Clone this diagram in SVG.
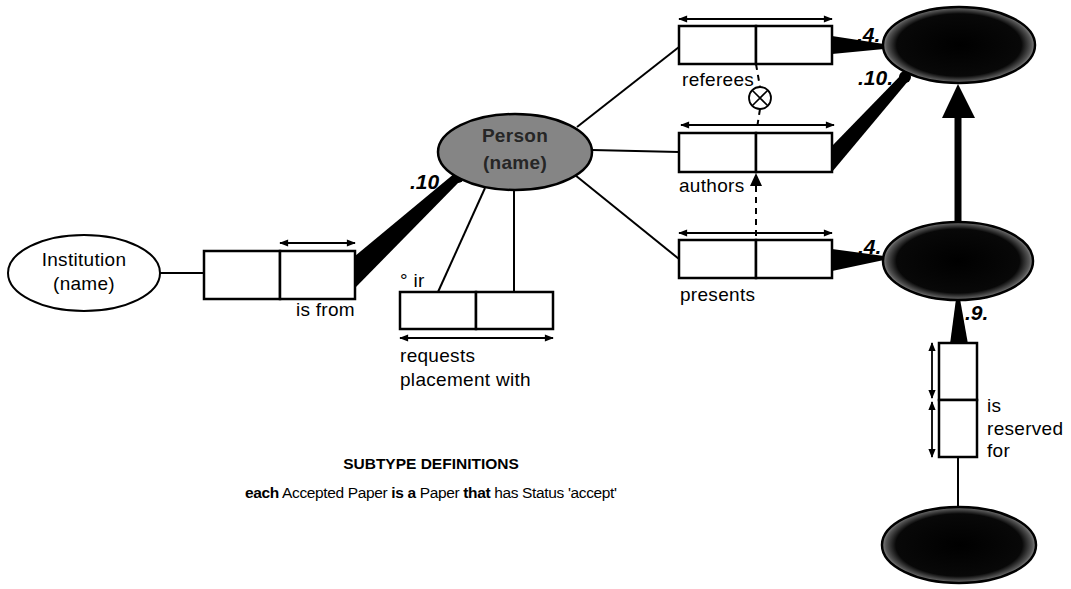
<svg xmlns="http://www.w3.org/2000/svg" width="1071" height="589" viewBox="0 0 1071 589">
<defs>
<style>
.box{fill:#fff;stroke:#000;stroke-width:2.5}
.ln{stroke:#000;stroke-width:2;fill:none}
.uc{stroke:#000;stroke-width:1.8;fill:none;marker-start:url(#ah);marker-end:url(#ah)}
.dash{stroke:#000;stroke-width:2;fill:none;stroke-dasharray:6 5}
.t{font-family:"Liberation Sans",Arial,sans-serif;font-size:19px;fill:#000;letter-spacing:0.3px}
.lab{font-family:"Liberation Sans",Arial,sans-serif;font-size:21px;font-weight:bold;font-style:italic;fill:#000}
.wedge{fill:#000}
.sub{font-family:"Liberation Sans",Arial,sans-serif;font-size:15.5px;fill:#000}
</style>
<marker id="ah" viewBox="0 0 10 10" refX="9" refY="5" markerWidth="10" markerHeight="9" orient="auto-start-reverse" markerUnits="userSpaceOnUse"><path d="M0,1 L10,5 L0,9 z" fill="#000"/></marker>
<radialGradient id="dark" cx="50%" cy="50%" r="50%">
<stop offset="0" stop-color="#000"/><stop offset="0.82" stop-color="#080808"/><stop offset="0.95" stop-color="#555"/><stop offset="1" stop-color="#888"/>
</radialGradient>
</defs>
<rect width="1071" height="589" fill="#fff"/>

<g id="connectors">
<line class="ln" x1="160" y1="273" x2="204" y2="273"/>
<line class="ln" x1="438" y1="292" x2="485" y2="188"/>
<line class="ln" x1="514" y1="292" x2="514" y2="190"/>
<line class="ln" x1="577" y1="127" x2="679" y2="47"/>
<line class="ln" x1="592" y1="150" x2="679" y2="152"/>
<line class="ln" x1="575" y1="175" x2="679" y2="259"/>
<line class="ln" x1="958" y1="457" x2="958" y2="507"/>
<polygon class="wedge" points="355,256 355,288 461,180 455,173"/>
<polygon class="wedge" points="832,36 832,54 884,49 884,44"/>
<polygon class="wedge" points="832,146 832,172 909,80 902,74"/>
<polygon class="wedge" points="832,249 832,271 884,260 884,256"/>
<polygon class="wedge" points="950,344 968,344 960,299 956,299"/>
<line x1="958" y1="222" x2="958" y2="112" stroke="#000" stroke-width="7"/>
<polygon class="wedge" points="958,84 942,118 975,118"/>
<path class="dash" d="M756,64 L760,87"/>
<path class="dash" d="M760,109 L757,128"/>
<line class="dash" x1="756" y1="236" x2="756" y2="185"/>
<polygon class="wedge" points="756,173 750,186 762,186"/>
<circle cx="760" cy="98" r="11" fill="#fff" stroke="#000" stroke-width="1.8"/>
<path d="M752.2,90.2 L767.8,105.8 M767.8,90.2 L752.2,105.8" stroke="#000" stroke-width="1.6"/>
<circle cx="458" cy="177" r="6" fill="#000"/>
<circle cx="905" cy="77" r="6" fill="#000"/>
</g>

<g id="institution">
<ellipse cx="84" cy="273" rx="76" ry="38" fill="#fff" stroke="#000" stroke-width="2"/>
<text class="t" x="84" y="266" text-anchor="middle">Institution</text>
<text class="t" x="84" y="290" text-anchor="middle">(name)</text>
</g>

<g id="person">
<ellipse cx="515" cy="152" rx="77" ry="38" fill="#858585" stroke="#000" stroke-width="2.5"/>
<text class="t" x="515" y="142" text-anchor="middle" style="fill:#262626;font-weight:bold">Person</text>
<text class="t" x="515" y="169" text-anchor="middle" style="fill:#262626;font-weight:bold">(name)</text>
</g>

<g id="is-from">
<rect class="box" x="204" y="251" width="76" height="48"/>
<rect class="box" x="280" y="251" width="75" height="48"/>
<line class="uc" x1="280" y1="243" x2="355" y2="243"/>
<text class="t" x="355" y="316" text-anchor="end">is from</text>
<text class="lab" x="410" y="189">.10</text>
</g>

<g id="requests">
<rect class="box" x="400" y="292" width="76" height="37"/>
<rect class="box" x="476" y="292" width="77" height="37"/>
<line class="uc" x1="400" y1="338" x2="553" y2="338"/>
<text class="t" x="400" y="287">° ir</text>
<text class="t" x="400" y="362">requests</text>
<text class="t" x="400" y="386">placement with</text>
</g>

<g id="referees">
<rect class="box" x="679" y="26" width="77" height="38"/>
<rect class="box" x="756" y="26" width="76" height="38"/>
<line class="uc" x1="679" y1="19" x2="832" y2="19"/>
<text class="t" x="682" y="86">referees</text>
</g>

<g id="authors">
<rect class="box" x="679" y="133" width="77" height="39"/>
<rect class="box" x="756" y="133" width="76" height="39"/>
<line class="uc" x1="681" y1="125" x2="834" y2="125"/>
<text class="t" x="679" y="192">authors</text>
</g>

<g id="presents">
<rect class="box" x="679" y="240" width="77" height="38"/>
<rect class="box" x="756" y="240" width="76" height="38"/>
<line class="uc" x1="679" y1="233" x2="832" y2="233"/>
<text class="t" x="680" y="301">presents</text>
</g>

<g id="paper-top">
<ellipse cx="959" cy="45" rx="76" ry="38" fill="url(#dark)" stroke="#000" stroke-width="2.5"/>
<text class="lab" x="857" y="42">.4.</text>
<text class="lab" x="858" y="85">.10.</text>
</g>

<g id="paper-mid">
<ellipse cx="958" cy="261" rx="75" ry="39" fill="url(#dark)" stroke="#000" stroke-width="2.5"/>
<text class="lab" x="858" y="254">.4.</text>
<text class="lab" x="965" y="320">.9.</text>
</g>

<g id="reserved">
<rect class="box" x="939" y="343" width="38" height="57"/>
<rect class="box" x="939" y="400" width="38" height="57"/>
<line class="uc" x1="932" y1="343" x2="932" y2="398"/>
<line class="uc" x1="932" y1="402" x2="932" y2="457"/>
<text class="t" x="987" y="412">is</text>
<text class="t" x="987" y="435">reserved</text>
<text class="t" x="987" y="457">for</text>
</g>

<g id="paper-bottom">
<ellipse cx="959" cy="545" rx="77" ry="38" fill="url(#dark)" stroke="#000" stroke-width="2.5"/>
</g>

<g id="subtype">
<text class="sub" x="431" y="469" text-anchor="middle" style="font-weight:bold">SUBTYPE DEFINITIONS</text>
<text class="sub" x="245" y="498" textLength="372" lengthAdjust="spacing"><tspan font-weight="bold">each</tspan> Accepted Paper <tspan font-weight="bold">is a</tspan> Paper <tspan font-weight="bold">that</tspan> has Status 'accept'</text>
</g>
</svg>
